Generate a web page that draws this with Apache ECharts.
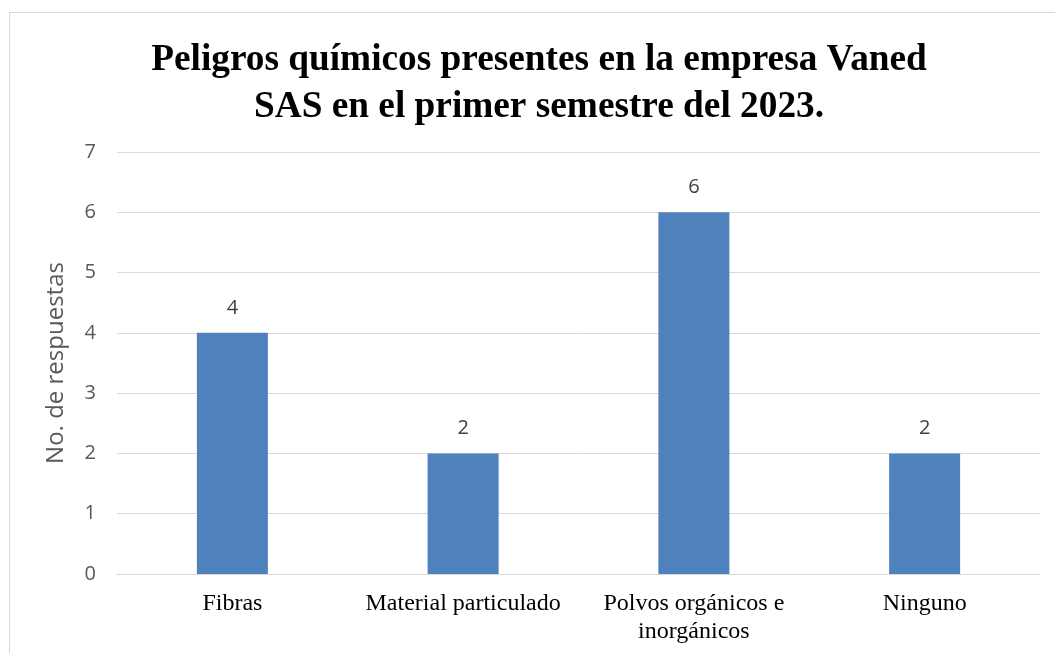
<!DOCTYPE html>
<html>
<head>
<meta charset="utf-8">
<script src="https://cdn.jsdelivr.net/npm/echarts@6/dist/echarts.min.js"></script>
<style>
  html, body { margin: 0; padding: 0; background: #fff; }
  #frame {
    position: absolute; left: 9px; top: 12px; width: 1100px; height: 700px;
    border: 1px solid #d9d9d9; box-sizing: border-box;
  }
  #chart { position: absolute; left: 0; top: 0; width: 1055px; height: 653px; }
</style>
</head>
<body>
<div id="frame"></div>
<div id="chart"></div>
<script>
const categories = ['Fibras', 'Material particulado', 'Polvos orgánicos e\ninorgánicos', 'Ninguno'];
const respuestas = [4, 2, 6, 2];
const yTicks = [0, 1, 2, 3, 4, 5, 6, 7];

let myChart = echarts.init(document.getElementById('chart'));
myChart.setOption({
  animation: false,
  title: {
    text: 'Peligros químicos presentes en la empresa Vaned\nSAS en el primer semestre del 2023.',
    left: 534,
    textAlign: 'center',
    top: 32,
    textStyle: {
      fontFamily: 'Liberation Serif',
      fontWeight: 'bold',
      fontSize: 37.3,
      lineHeight: 47,
      color: '#000'
    }
  },
  grid: {
    top: 152,
    bottom: 79,
    left: 117,
    right: 15
  },
  xAxis: {
    type: 'category',
    data: categories,
    axisTick: { show: false },
    axisLine: { lineStyle: { color: '#d9d9d9', width: 1 } },
    axisLabel: {
      color: '#000',
      fontFamily: 'Liberation Serif',
      fontSize: 24,
      lineHeight: 28,
      margin: 16,
      interval: 0
    }
  },
  yAxis: {
    type: 'value',
    min: 0,
    max: yTicks[yTicks.length - 1],
    interval: 1,
    name: 'No. de respuestas',
    nameLocation: 'middle',
    nameGap: 49,
    nameTextStyle: {
      color: '#595959',
      fontFamily: 'Open Sans',
      fontSize: 24
    },
    splitLine: { lineStyle: { color: '#d9d9d9', width: 1 } },
    axisLabel: {
      color: '#595959',
      fontFamily: 'Open Sans',
      fontSize: 20,
      margin: 21
    }
  },
  series: [{
    type: 'bar',
    data: respuestas,
    barWidth: 71,
    itemStyle: { color: '#4f81bd' },
    label: {
      show: true,
      position: 'top',
      distance: 15,
      color: '#404040',
      fontFamily: 'Open Sans',
      fontSize: 20
    }
  }]
});
</script>
</body>
</html>
